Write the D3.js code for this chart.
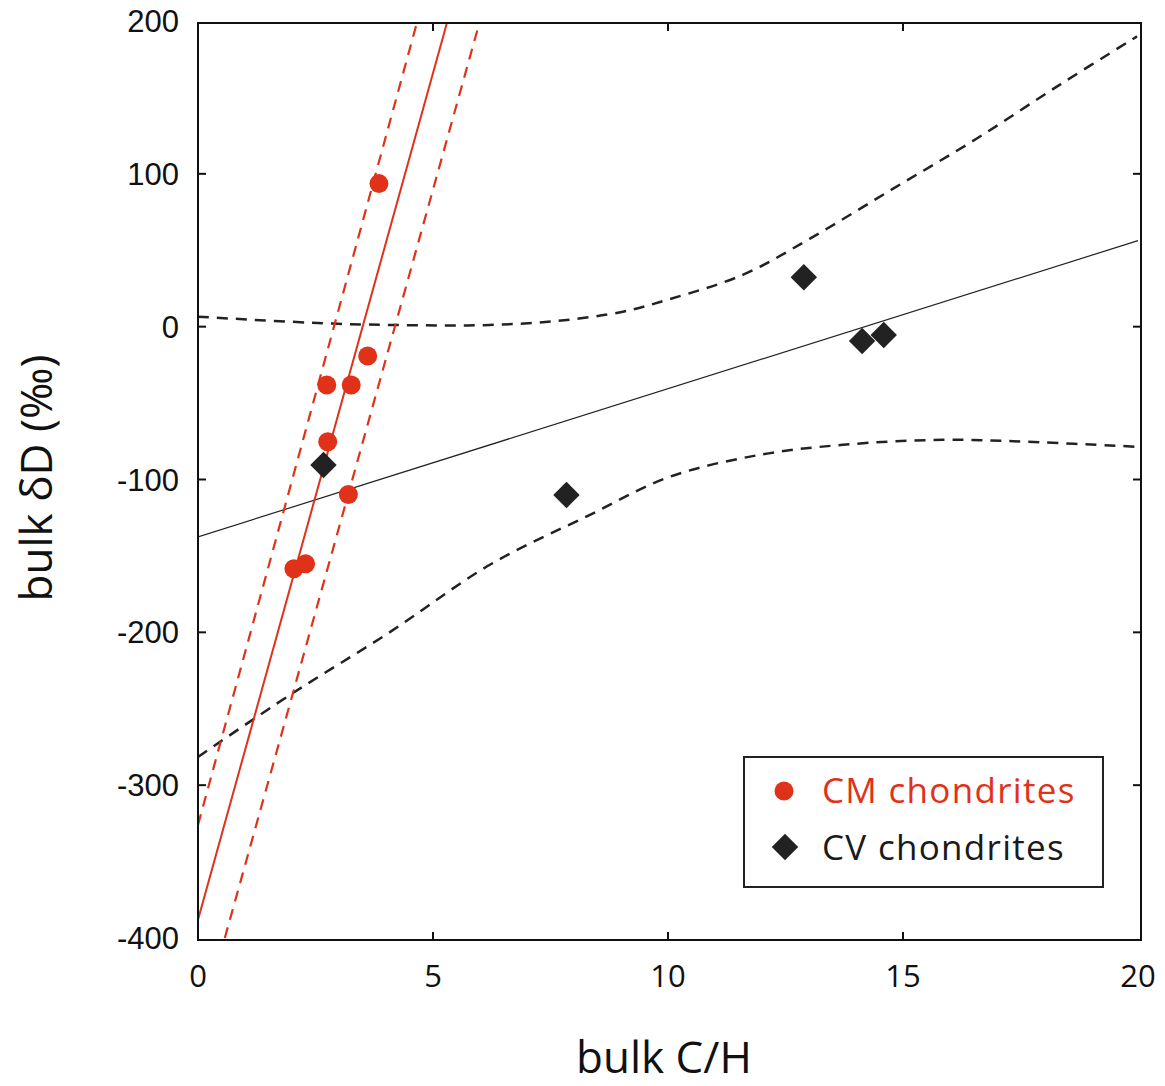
<!DOCTYPE html>
<html>
<head>
<meta charset="utf-8">
<script src="https://cdn.jsdelivr.net/npm/d3@7"></script>
<style>
    body { margin: 0; background: #fff; }
    svg { display: block; }
</style>
</head>
<body>
<div id="chart"></div>
<script>
// CM chondrites (red circles)
const cmX = [3.85, 3.61, 2.74, 3.26, 2.76, 3.20, 2.04, 2.29];
const cmY = [93.6, -19.2, -38.2, -38.2, -75.3, -109.8, -158.4, -155.2];

// CV chondrites (black diamonds)
const cvX = [2.67, 7.84, 12.89, 14.13, 14.59];
const cvY = [-90.5, -110.2, 32.3, -9.4, -5.4];

// CV regression line and its dashed band
const cvFitX = [0, 20];
const cvFitY = [-137.5, 56.3];
const cvUpperX = [0, 2.87, 4.79, 6.21, 7.64, 9.04, 10.0, 11.6, 13.02, 14.79, 16.57, 18.34, 19.98];
const cvUpperY = [6.5, 2.0, 0.9, 1.1, 3.7, 9.8, 17.7, 34.0, 57.6, 90.3, 123.1, 158.4, 189.9];
const cvLowerX = [0, 1.96, 4.09, 6.21, 8.34, 10.04, 11.96, 13.72, 15.85, 17.64, 19.98];
const cvLowerY = [-281.5, -240.9, -199.7, -155.8, -123.1, -98.2, -83.8, -77.3, -74.0, -75.3, -78.6];

// CM regression line and its dashed band
const cmFitX = [0, 5.29];
const cmFitY = [-388, 198];
const cmLeftX = [0, 4.65];
const cmLeftY = [-326, 198];
const cmRightX = [0.57, 5.98];
const cmRightY = [-400, 198];

const xTicks = [0, 5, 10, 15, 20];
const yTicks = [-400, -300, -200, -100, 0, 100, 200];

const legendLabels = ["CM chondrites", "CV chondrites"];

const red = "#df3218";
const dark = "#222";

const width = 1165, height = 1086;
const frame = { left: 198, right: 1141, top: 23, bottom: 940 };

const svg = d3.select("#chart")
    .append("svg")
    .attr("width", width)
    .attr("height", height);

const x = d3.scaleLinear().domain([0, 20]).range([198, 1138]);
const y = d3.scaleLinear().domain([-400, 200]).range([938, 21]);

const zip = (xs, ys) => xs.map((v, i) => [v, ys[i]]);

svg.append("defs").append("clipPath")
    .attr("id", "plot-clip")
    .append("rect")
    .attr("x", frame.left)
    .attr("y", frame.top)
    .attr("width", frame.right - frame.left)
    .attr("height", frame.bottom - frame.top);

const plot = svg.append("g").attr("clip-path", "url(#plot-clip)");

const line = d3.line().x(d => x(d[0])).y(d => y(d[1]));
const smooth = d3.line().x(d => x(d[0])).y(d => y(d[1])).curve(d3.curveCatmullRom.alpha(0.5));

// black fit + band
plot.append("path")
    .attr("d", line(zip(cvFitX, cvFitY)))
    .attr("fill", "none")
    .attr("stroke", dark)
    .attr("stroke-width", 1.2);

[zip(cvUpperX, cvUpperY), zip(cvLowerX, cvLowerY)].forEach(pts => {
    plot.append("path")
        .attr("d", smooth(pts))
        .attr("fill", "none")
        .attr("stroke", dark)
        .attr("stroke-width", 2.5)
        .attr("stroke-dasharray", "11,8");
});

// red fit + band
plot.append("path")
    .attr("d", line(zip(cmFitX, cmFitY)))
    .attr("fill", "none")
    .attr("stroke", red)
    .attr("stroke-width", 2);

[zip(cmLeftX, cmLeftY), zip(cmRightX, cmRightY)].forEach(pts => {
    plot.append("path")
        .attr("d", line(pts))
        .attr("fill", "none")
        .attr("stroke", red)
        .attr("stroke-width", 2.2)
        .attr("stroke-dasharray", "11,8");
});

// points
const diamond = d3.symbol().type(d3.symbolSquare).size(350);

svg.selectAll(".cv")
    .data(zip(cvX, cvY))
    .enter()
    .append("path")
    .attr("class", "cv")
    .attr("d", diamond)
    .attr("transform", d => `translate(${x(d[0])},${y(d[1])}) rotate(45)`)
    .attr("fill", dark);

svg.selectAll(".cm")
    .data(zip(cmX, cmY))
    .enter()
    .append("circle")
    .attr("class", "cm")
    .attr("cx", d => x(d[0]))
    .attr("cy", d => y(d[1]))
    .attr("r", 9.5)
    .attr("fill", red);

// frame
svg.append("rect")
    .attr("x", frame.left)
    .attr("y", frame.top)
    .attr("width", frame.right - frame.left)
    .attr("height", frame.bottom - frame.top)
    .attr("fill", "none")
    .attr("stroke", "#111")
    .attr("stroke-width", 2);

// inward ticks on all four sides
const innerX = xTicks.filter(t => t > 0 && t < 20);
const innerY = yTicks.filter(t => t > -400 && t < 200);
const tickLen = 8;

innerX.forEach(t => {
    svg.append("line").attr("x1", x(t)).attr("x2", x(t)).attr("y1", frame.bottom).attr("y2", frame.bottom - tickLen);
    svg.append("line").attr("x1", x(t)).attr("x2", x(t)).attr("y1", frame.top).attr("y2", frame.top + tickLen);
});
innerY.forEach(t => {
    svg.append("line").attr("x1", frame.left).attr("x2", frame.left + tickLen).attr("y1", y(t)).attr("y2", y(t));
    svg.append("line").attr("x1", frame.right).attr("x2", frame.right - tickLen).attr("y1", y(t)).attr("y2", y(t));
});
svg.selectAll("line").attr("stroke", "#111").attr("stroke-width", 2);

// tick labels
svg.selectAll(".xlabel")
    .data(xTicks)
    .enter()
    .append("text")
    .attr("class", "xlabel")
    .attr("x", d => x(d))
    .attr("y", 987)
    .attr("text-anchor", "middle")
    .style("font-family", "'Open Sans', sans-serif")
    .style("font-size", "31px")
    .attr("fill", "#111")
    .text(d => d);

svg.selectAll(".ylabel")
    .data(yTicks)
    .enter()
    .append("text")
    .attr("class", "ylabel")
    .attr("x", 179)
    .attr("y", d => y(d) + 11)
    .attr("text-anchor", "end")
    .style("font-family", "'Liberation Sans', Arial, sans-serif")
    .style("font-size", "31px")
    .attr("fill", "#111")
    .text(d => d);

// axis titles
svg.append("text")
    .attr("x", 664)
    .attr("y", 1073)
    .attr("text-anchor", "middle")
    .style("font-family", "'Open Sans', sans-serif")
    .style("font-size", "44px")
    .attr("fill", "#111")
    .text("bulk C/H");

svg.append("text")
    .attr("transform", "translate(52,478) rotate(-90)")
    .attr("text-anchor", "middle")
    .style("font-family", "'Open Sans', sans-serif")
    .style("font-size", "44px")
    .attr("fill", "#111")
    .text("bulk δD (‰)");

// legend
const legend = svg.append("g").attr("transform", "translate(744,757)");

legend.append("rect")
    .attr("width", 359)
    .attr("height", 130)
    .attr("fill", "#fff")
    .attr("stroke", "#222")
    .attr("stroke-width", 2);

legend.append("circle")
    .attr("cx", 40).attr("cy", 34).attr("r", 9.5).attr("fill", red);

legend.append("path")
    .attr("d", diamond)
    .attr("transform", "translate(41,90) rotate(45)")
    .attr("fill", dark);

legend.selectAll(".legend-text")
    .data(legendLabels)
    .enter()
    .append("text")
    .attr("class", "legend-text")
    .attr("x", 78)
    .attr("y", (d, i) => 46 + i * 57)
    .style("font-family", "'Open Sans', sans-serif")
    .style("font-size", "35px")
    .style("letter-spacing", "1.3px")
    .attr("fill", (d, i) => i === 0 ? red : "#1a1a1a")
    .text(d => d);
</script>
</body>
</html>
